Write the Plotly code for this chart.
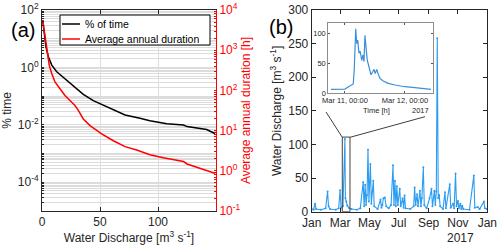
import plotly.graph_objects as go

# ---------------- Panel (a) data ----------------
q_time = [0.6, 1.7, 3.4, 5.5, 8.4, 12.7, 18.4, 24.1, 29.9, 35.6, 44.2, 52.9, 61.5,
          71.6, 84.5, 93, 107.6, 122, 125, 136, 142, 149]
pct_time = [44.7, 15.5, 5.25, 2.34, 1.20, 0.71, 0.45, 0.30, 0.19, 0.115, 0.07, 0.049,
            0.035, 0.022, 0.017, 0.014, 0.011, 0.0098, 0.0087, 0.0076, 0.0069, 0.0050]
q_dur = [0.6, 2.6, 4.0, 6.3, 8.4, 11.2, 15.5, 19.8, 24.1, 28.4, 31.3, 35.6, 41.4,
         51.4, 61.5, 71.6, 81.6, 93, 104.6, 113, 122, 125, 136, 142, 149]
dur_h = [5600, 2140, 1000, 417, 263, 162, 110, 75, 56, 42, 32, 19.5, 13.3, 8.3,
         5.6, 4.0, 3.3, 2.5, 2.1, 1.86, 1.7, 1.48, 1.17, 1.05, 0.87]

# ---------------- Panel (b) data ----------------
dates_b = ["2017-01-01", "2017-01-05", "2017-01-08", "2017-01-10", "2017-01-20", "2017-01-30",
           "2017-02-03", "2017-02-05", "2017-02-08", "2017-02-20", "2017-02-26", "2017-03-01",
           "2017-03-03", "2017-03-07", "2017-03-11", "2017-03-12", "2017-03-14", "2017-03-16",
           "2017-03-20", "2017-03-25", "2017-04-05", "2017-04-12", "2017-04-18", "2017-04-20",
           "2017-04-22", "2017-04-24", "2017-04-26", "2017-04-28", "2017-04-30", "2017-05-03",
           "2017-05-05", "2017-05-07", "2017-05-09", "2017-05-11", "2017-05-18", "2017-05-24",
           "2017-05-26", "2017-05-28", "2017-05-30", "2017-06-02", "2017-06-05", "2017-06-10",
           "2017-06-15", "2017-06-19", "2017-06-21", "2017-06-23", "2017-06-25", "2017-06-27",
           "2017-06-29", "2017-07-03", "2017-07-05", "2017-07-09", "2017-07-11", "2017-07-13",
           "2017-07-15", "2017-07-25", "2017-08-01", "2017-08-03", "2017-08-05", "2017-08-08",
           "2017-08-10", "2017-08-14", "2017-08-16", "2017-08-18", "2017-08-21", "2017-08-23",
           "2017-08-28", "2017-09-03", "2017-09-07", "2017-09-09", "2017-09-13", "2017-09-15",
           "2017-09-17", "2017-09-19", "2017-09-21", "2017-09-23", "2017-09-25", "2017-10-01",
           "2017-10-05", "2017-10-07", "2017-10-15", "2017-10-17", "2017-10-22", "2017-10-24",
           "2017-10-27", "2017-10-29", "2017-11-01", "2017-11-03", "2017-11-06", "2017-11-08",
           "2017-11-10", "2017-11-12", "2017-11-25", "2017-12-04", "2017-12-06", "2017-12-12",
           "2017-12-16", "2017-12-25", "2017-12-27", "2017-12-31"]
flow_b = [4, 3, 12, 4, 3, 5,
          30, 8, 4, 3, 5, 32,
          6, 8, 108, 20, 15, 9,
          5, 4, 3, 5, 44, 8,
          40, 10, 25, 92, 15, 71,
          12, 30, 46, 8, 4, 18,
          6, 10, 20, 21, 8, 5,
          10, 69, 10, 46, 8, 38,
          10, 34, 8, 20, 6, 24,
          5, 4, 8, 36, 10, 26,
          8, 31, 8, 20, 66, 10,
          5, 20, 34, 8, 31, 10,
          30, 258, 20, 25, 8, 4,
          29, 5, 41, 6, 12, 5,
          57, 8, 16, 5, 12, 4,
          9, 4, 3, 54, 6, 7,
          4, 15, 5, 4]

# inset (event of 11 March 2017)
times_in = ["2017-03-10 18:24", "2017-03-11 00:00", "2017-03-11 01:06", "2017-03-11 02:24",
            "2017-03-11 03:18", "2017-03-11 03:42", "2017-03-11 04:18", "2017-03-11 04:42",
            "2017-03-11 05:06", "2017-03-11 05:36", "2017-03-11 06:06", "2017-03-11 06:42",
            "2017-03-11 07:12", "2017-03-11 07:36", "2017-03-11 08:00", "2017-03-11 08:24",
            "2017-03-11 08:54", "2017-03-11 09:36", "2017-03-11 10:24", "2017-03-11 11:06",
            "2017-03-11 11:36", "2017-03-11 12:06", "2017-03-11 12:42", "2017-03-11 13:18",
            "2017-03-11 14:00", "2017-03-11 15:18", "2017-03-11 17:18", "2017-03-11 20:00",
            "2017-03-12 00:00", "2017-03-12 04:00", "2017-03-12 08:00", "2017-03-12 10:24"]
flow_in = [6.7, 7, 10, 13, 15.6, 38, 108, 83, 89, 67, 70, 55, 64, 53, 97, 78, 56, 44,
           31, 36, 40, 33, 40, 32, 25, 20.5, 16.7, 13.9, 11, 9.4, 7.8, 6.7]

month_ticks = ["2017-01-01", "2017-03-01", "2017-05-01", "2017-07-01", "2017-09-01",
               "2017-11-01", "2018-01-01"]
month_text = ["Jan", "Mar", "May", "Jul", "Sep", "Nov", "Jan"]

W, H = 500, 252
FONT = "Arial, Liberation Sans, sans-serif"
AX = "#262626"
RED = "#ff0000"


def px(x):
    return x / W


def py(y):
    return 1 - y / H


def log_ticks(lo, hi, labelled):
    vals, text = [], []
    for n in range(lo, hi):
        for k in range(1, 10):
            vals.append(k * 10.0 ** n)
            text.append("10<sup>%d</sup>" % n if (k == 1 and n in labelled) else "")
    vals.append(10.0 ** hi)
    text.append("10<sup>%d</sup>" % hi if hi in labelled else "")
    return vals, text


yv1, yt1 = log_ticks(-5, 2, [2, 0, -2, -4])
yv2, yt2 = log_ticks(-1, 4, [-1, 0, 1, 2, 3, 4])

fig = go.Figure()
fig.add_trace(go.Scatter(x=q_time, y=pct_time, mode="lines", line=dict(color="black", width=1.5),
                         name="% of time", xaxis="x", yaxis="y", showlegend=False))
fig.add_trace(go.Scatter(x=q_dur, y=dur_h, mode="lines", line=dict(color=RED, width=1.5),
                         name="Average annual duration", xaxis="x", yaxis="y2", showlegend=False))
fig.add_trace(go.Scatter(x=dates_b, y=flow_b, mode="lines+markers",
                         line=dict(color="#2b9cf2", width=1.1), marker=dict(size=2, color="#2b9cf2"),
                         xaxis="x3", yaxis="y3", showlegend=False))
fig.add_trace(go.Scatter(x=times_in, y=flow_in, mode="lines", line=dict(color="#3a8fd8", width=1.2),
                         xaxis="x4", yaxis="y4", showlegend=False))

tickfont = dict(family=FONT, size=12, color=AX)

fig.update_layout(
    width=W, height=H, margin=dict(l=0, r=0, t=0, b=0, autoexpand=False),
    paper_bgcolor="white", plot_bgcolor="white",
    font=dict(family=FONT, size=12, color=AX),
    xaxis=dict(domain=[px(42), px(216)], range=[0, 150], tickvals=[0, 50, 100],
               showline=True, linecolor=AX, linewidth=1, mirror="ticks", ticks="inside",
               ticklen=4, tickcolor=AX, showgrid=True, gridcolor="#dedede", zeroline=False,
               tickfont=tickfont,
               title=dict(text="Water Discharge [m<sup>3</sup> s<sup>-1</sup>]", standoff=2,
                          font=dict(size=12))),
    yaxis=dict(domain=[py(211), py(10)], type="log", range=[-5, 2], tickmode="array",
               tickvals=yv1, ticktext=yt1, showline=True, linecolor=AX, linewidth=1,
               ticks="inside", ticklen=2, tickcolor=AX, showgrid=True, gridcolor="#dcdcdc",
               zeroline=False, tickfont=tickfont,
               title=dict(text="% time", standoff=6, font=dict(size=12))),
    yaxis2=dict(overlaying="y", side="right", anchor="x", type="log", range=[-1, 4],
                tickmode="array", tickvals=yv2, ticktext=yt2, showline=True, linecolor=RED,
                linewidth=1, ticks="inside", ticklen=2, tickcolor=RED, showgrid=False,
                zeroline=False, tickfont=dict(family=FONT, size=12, color=RED),
                title=dict(text="Average annual duration [h]", standoff=2,
                           font=dict(size=12, color=RED))),
    xaxis3=dict(domain=[px(311.7), px(487.3)], anchor="y3", type="date",
                range=["2017-01-01", "2018-01-01"], tickmode="array", tickvals=month_ticks,
                ticktext=month_text, showline=True, linecolor=AX, mirror="ticks",
                ticks="inside", ticklen=4, tickcolor=AX, showgrid=False, tickfont=tickfont),
    yaxis3=dict(domain=[py(211.7), py(10)], anchor="x3", range=[0, 300], dtick=50,
                showline=True, linecolor=AX, mirror="ticks", ticks="inside", ticklen=4,
                tickcolor=AX, showgrid=False, zeroline=False, tickfont=tickfont,
                title=dict(text="Water Discharge [m<sup>3</sup> s<sup>-1</sup>]", standoff=4,
                           font=dict(size=12))),
    xaxis4=dict(domain=[px(328.3), px(433.3)], anchor="y4", type="date",
                range=["2017-03-10 17:20", "2017-03-12 11:20"], tickmode="array",
                tickvals=["2017-03-11", "2017-03-12"],
                ticktext=["Mar 11, 00:00", "Mar 12, 00:00"], showline=True,
                linecolor="#8c8c8c", mirror="ticks", ticks="inside", ticklen=2,
                tickcolor="#555555", showgrid=False,
                tickfont=dict(family=FONT, size=7.5, color=AX)),
    yaxis4=dict(domain=[py(93.3), py(22.7)], anchor="x4", range=[0, 118],
                tickvals=[0, 50, 100], showline=True, linecolor="#8c8c8c", mirror="ticks",
                ticks="inside", ticklen=2, tickcolor="#555555", showgrid=False,
                zeroline=False, tickfont=dict(family=FONT, size=7.5, color=AX)),
)

shapes = []
# legend box of panel (a)
shapes.append(dict(type="rect", xref="paper", yref="paper", x0=px(60), x1=px(210),
                   y0=py(45), y1=py(15), line=dict(color="black", width=1),
                   fillcolor="white", layer="above"))
shapes.append(dict(type="line", xref="paper", yref="paper", x0=px(62), x1=px(80),
                   y0=py(24), y1=py(24), line=dict(color="black", width=1.5)))
shapes.append(dict(type="line", xref="paper", yref="paper", x0=px(62), x1=px(80),
                   y0=py(39), y1=py(39), line=dict(color=RED, width=1.5)))
# zoom rectangle in panel (b)
shapes.append(dict(type="rect", xref="x3", yref="y3", x0="2017-03-05 14:00",
                   x1="2017-03-21 14:00", y0=0, y1=111,
                   line=dict(color="#404040", width=1)))
# connector lines
shapes.append(dict(type="line", xref="paper", yref="paper", x0=px(326), y0=py(112),
                   x1=px(342.3), y1=py(137.3), line=dict(color="#404040", width=1)))
shapes.append(dict(type="line", xref="paper", yref="paper", x0=px(425), y0=py(116.7),
                   x1=px(350), y1=py(137.3), line=dict(color="#404040", width=1)))
fig.update_layout(shapes=shapes)

ann = []
ann.append(dict(text="% of time", x=px(83), y=py(24), xref="paper", yref="paper",
                xanchor="left", yanchor="middle", showarrow=False,
                font=dict(size=10.5, color="black")))
ann.append(dict(text="Average annual duration", x=px(83), y=py(39), xref="paper",
                yref="paper", xanchor="left", yanchor="middle", showarrow=False,
                font=dict(size=10.5, color="black")))
ann.append(dict(text="(a)", x=px(22.5), y=py(30), xref="paper", yref="paper",
                xanchor="center", yanchor="middle", showarrow=False,
                font=dict(size=20, color="black")))
ann.append(dict(text="(b)", x=px(281), y=py(27), xref="paper", yref="paper",
                xanchor="center", yanchor="middle", showarrow=False,
                font=dict(size=20, color="black")))
ann.append(dict(text="2017", x=px(460), y=py(238), xref="paper", yref="paper",
                xanchor="center", yanchor="middle", showarrow=False,
                font=dict(size=12, color=AX)))
ann.append(dict(text="Time [h]", x=px(376.7), y=py(110), xref="paper", yref="paper",
                xanchor="center", yanchor="middle", showarrow=False,
                font=dict(size=7.5, color=AX)))
ann.append(dict(text="2017", x=px(420), y=py(110), xref="paper", yref="paper",
                xanchor="center", yanchor="middle", showarrow=False,
                font=dict(size=7.5, color=AX)))
fig.update_layout(annotations=ann)

fig.write_html("out.html", config={"displayModeBar": False},
               post_script="document.body.style.margin='0px';")
